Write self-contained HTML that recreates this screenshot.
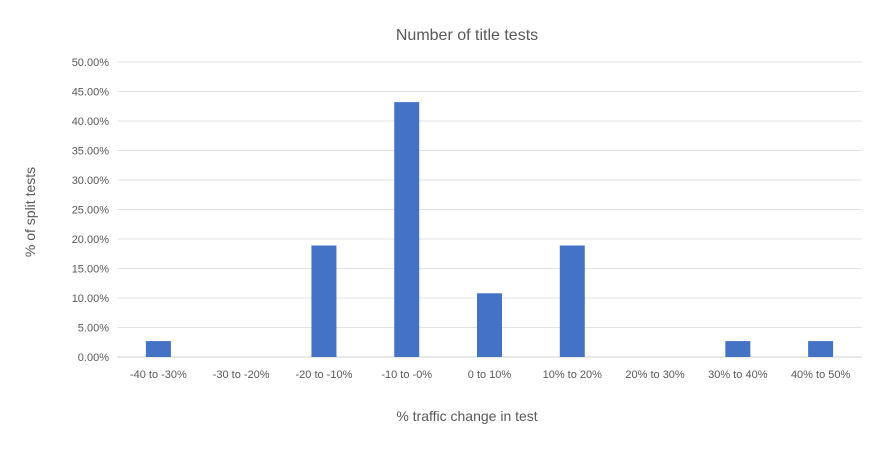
<!DOCTYPE html>
<html><head><meta charset="utf-8"><style>
body{margin:0;background:#fff;}
svg text{font-family:"Liberation Sans",sans-serif;fill:#595959;}
</style></head><body>
<svg width="875" height="456" viewBox="0 0 875 456">
<rect width="875" height="456" fill="#fff"/>
<text x="467" y="40" text-anchor="middle" font-size="16">Number of title  tests</text>
<text transform="translate(35,212) rotate(-90)" text-anchor="middle" font-size="14">% of split tests</text>
<text x="467" y="421" text-anchor="middle" font-size="14">% traffic change in test</text>
<g id="grid"></g><g id="bars"></g><g id="xl"></g>
</svg>
<script>
const categories=["-40 to -30%","-30 to -20%","-20 to -10%","-10 to -0%","0 to 10%","10% to 20%","20% to 30%","30% to 40%","40% to 50%"];
const values=[2.7,0,18.9,43.2,10.8,18.9,0,2.7,2.7];
const yTicks=[0,5,10,15,20,25,30,35,40,45,50];
const NS="http://www.w3.org/2000/svg";
const x0=117,x1=862,yb=357,yt=62,ymax=50;
const bw=(x1-x0)/categories.length;
const y=v=>yb-(v/ymax)*(yb-yt);
const xc=i=>x0+bw*(i+0.5);
function mk(t,a,p){const e=document.createElementNS(NS,t);for(const k in a)e.setAttribute(k,a[k]);p.appendChild(e);return e;}
const g=document.getElementById('grid'),b=document.getElementById('bars'),xl=document.getElementById('xl');
yTicks.forEach(t=>{
 const l=mk('line',{x1:x0,x2:x1,y1:y(t),y2:y(t),stroke:t===0?'#d0d0d0':'#e3e3e3','stroke-width':1},g);
 
 
 const tx=mk('text',{x:109,y:y(t)+4,'text-anchor':'end','font-size':11},g);
 tx.textContent=t.toFixed(2)+'%';
 
 
});
values.forEach((v,i)=>{
 const r=mk('rect',{x:xc(i)-12.5,y:y(v),width:25,height:yb-y(v),fill:'#4472c4'},b);
 
 
 const tx=mk('text',{x:xc(i),y:378,'text-anchor':'middle','font-size':11},xl);
 tx.textContent=categories[i];
 
 
});
</script>
</body></html>
